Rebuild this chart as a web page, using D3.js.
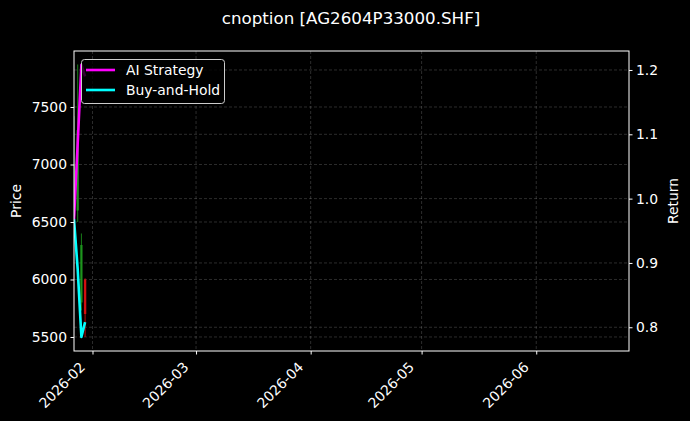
<!DOCTYPE html>
<html><head><meta charset="utf-8">
<script src="https://cdn.jsdelivr.net/npm/d3@7"></script>
<style>
html,body{margin:0;padding:0;background:#000;}
text{font-family:"DejaVu Sans",sans-serif;fill:#fff;}
</style></head>
<body><svg id="c" width="690" height="421"></svg>
<script>
const title = "cnoption [AG2604P33000.SHF]";
const dates = ["2026-01-27","2026-01-28","2026-01-29","2026-01-30"];
const openP  = [6550, 6600, 5800, 6000];
const closeP = [7000, 7300, 6300, 5700];
const highP  = [7420, 7870, 6400, 6010];
const lowP   = [6530, 6500, 5730, 5500];
const aiReturn = [0.968, 1.086, 1.208, 1.19];
const bhReturn = [0.968, 0.890, 0.785, 0.808];
const xTickLabels = ["2026-02","2026-03","2026-04","2026-05","2026-06"];
const priceTicks = [5500, 6000, 6500, 7000, 7500];
const returnTicks = [0.8, 0.9, 1.0, 1.1, 1.2];
const seriesNames = ["AI Strategy", "Buy-and-Hold"];
const seriesColors = ["#ff00ff", "#00ffff"];

const parse = d3.utcParse("%Y-%m-%d");
const L = 74, R = 629, T = 51, B = 351;
const svg = d3.select("#c");
svg.append("rect").attr("width",690).attr("height",421).attr("fill","#000");

const x = d3.scaleUtc().domain([parse("2026-01-27"), new Date(Date.UTC(2026,5,26,2))]).range([L,R]);
const yP = d3.scaleLinear().domain([5378, 7987]).range([B,T]);
const yR = d3.scaleLinear().domain([0.7631, 1.2295]).range([B,T]);

svg.append("clipPath").attr("id","pc").append("rect").attr("x",L).attr("y",T).attr("width",R-L).attr("height",B-T);

// grid
const g = svg.append("g");
const xt = xTickLabels.map(s => parse(s+"-01"));
g.selectAll(".vg").data(xt).enter().append("line")
  .attr("x1",d=>x(d)).attr("x2",d=>x(d)).attr("y1",T).attr("y2",B)
  .attr("stroke","#fff").attr("stroke-opacity",0.22).attr("stroke-width",0.8).attr("stroke-dasharray","3,2");
g.selectAll(".hg").data(priceTicks).enter().append("line")
  .attr("x1",L).attr("x2",R).attr("y1",d=>yP(d)).attr("y2",d=>yP(d))
  .attr("stroke","#fff").attr("stroke-opacity",0.22).attr("stroke-width",0.8).attr("stroke-dasharray","3,2");
g.selectAll(".hr").data(returnTicks).enter().append("line")
  .attr("x1",L).attr("x2",R).attr("y1",d=>yR(d)).attr("y2",d=>yR(d))
  .attr("stroke","#fff").attr("stroke-opacity",0.22).attr("stroke-width",0.8).attr("stroke-dasharray","3,2");

// candles
const plot = svg.append("g").attr("clip-path","url(#pc)");
const candles = dates.map((d,i)=>({d:parse(d),o:openP[i],c:closeP[i],h:highP[i],l:lowP[i]}));
const col = d => d.c >= d.o ? "#1f9f1f" : "#ee1111";
plot.selectAll(".wick").data(candles).enter().append("line")
  .attr("x1",d=>x(d.d)).attr("x2",d=>x(d.d)).attr("y1",d=>yP(d.h)).attr("y2",d=>yP(d.l))
  .attr("stroke",col).attr("stroke-width",1).attr("stroke-opacity",0.8);
plot.selectAll(".body").data(candles).enter().append("rect")
  .attr("x",d=>x(d.d)-1.2).attr("width",2.4)
  .attr("y",d=>yP(Math.max(d.o,d.c))).attr("height",d=>Math.abs(yP(d.o)-yP(d.c)))
  .attr("fill",col).attr("fill-opacity",0.8);

// return lines
const line = d3.line().x((d,i)=>x(parse(dates[i]))).y(d=>yR(d));
[aiReturn, bhReturn].forEach((s,k)=>{
  plot.append("path").attr("d",line(s)).attr("fill","none")
    .attr("stroke",seriesColors[k]).attr("stroke-width",2.6).attr("stroke-linejoin","round");
});

// axes
const fs = "13.9px";
const ax = svg.append("g").attr("transform",`translate(0,${B})`)
  .call(d3.axisBottom(x).tickValues(xt).tickFormat(d3.utcFormat("%Y-%m")).tickSize(3.5).tickPadding(3));
ax.select(".domain").remove();
ax.selectAll("line").attr("stroke","#fff");
ax.selectAll("text").style("font-size",fs).attr("text-anchor","end")
  .attr("y",0).attr("dy",0)
  .attr("transform","translate(-7,17) rotate(-45)").attr("fill","#fff");

const ay = svg.append("g").attr("transform",`translate(${L},0)`)
  .call(d3.axisLeft(yP).tickValues(priceTicks).tickSize(3.5).tickPadding(3.5).tickFormat(d3.format("d")));
ay.select(".domain").remove();
ay.selectAll("line").attr("stroke","#fff");
ay.selectAll("text").style("font-size",fs).attr("fill","#fff");

const ar = svg.append("g").attr("transform",`translate(${R},0)`)
  .call(d3.axisRight(yR).tickValues(returnTicks).tickSize(3.5).tickPadding(3.5).tickFormat(d3.format(".1f")));
ar.select(".domain").remove();
ar.selectAll("line").attr("stroke","#fff");
ar.selectAll("text").style("font-size",fs).attr("fill","#fff");

svg.append("rect").attr("x",L).attr("y",T).attr("width",R-L).attr("height",B-T)
  .attr("fill","none").attr("stroke","#fff").attr("stroke-width",1);

// labels
svg.append("text").attr("x",351).attr("y",24).attr("text-anchor","middle").style("font-size","16.7px").text(title);
svg.append("text").attr("transform","translate(21,201) rotate(-90)").attr("text-anchor","middle").style("font-size",fs).text("Price");
svg.append("text").attr("transform","translate(678,201) rotate(-90)").attr("text-anchor","middle").style("font-size",fs).text("Return");

// legend
const lg = svg.append("g");
lg.append("rect").attr("x",81.5).attr("y",59.5).attr("width",143).attr("height",44).attr("rx",3)
  .attr("fill","#000").attr("fill-opacity",0.8).attr("stroke","#ccc").attr("stroke-width",1);
seriesNames.forEach((n,k)=>{
  const yy = 70 + k*20;
  lg.append("line").attr("x1",86).attr("x2",115).attr("y1",yy).attr("y2",yy)
    .attr("stroke",seriesColors[k]).attr("stroke-width",2.6);
  lg.append("text").attr("x",126).attr("y",yy+5).style("font-size",fs).text(n);
});
</script></body></html>
